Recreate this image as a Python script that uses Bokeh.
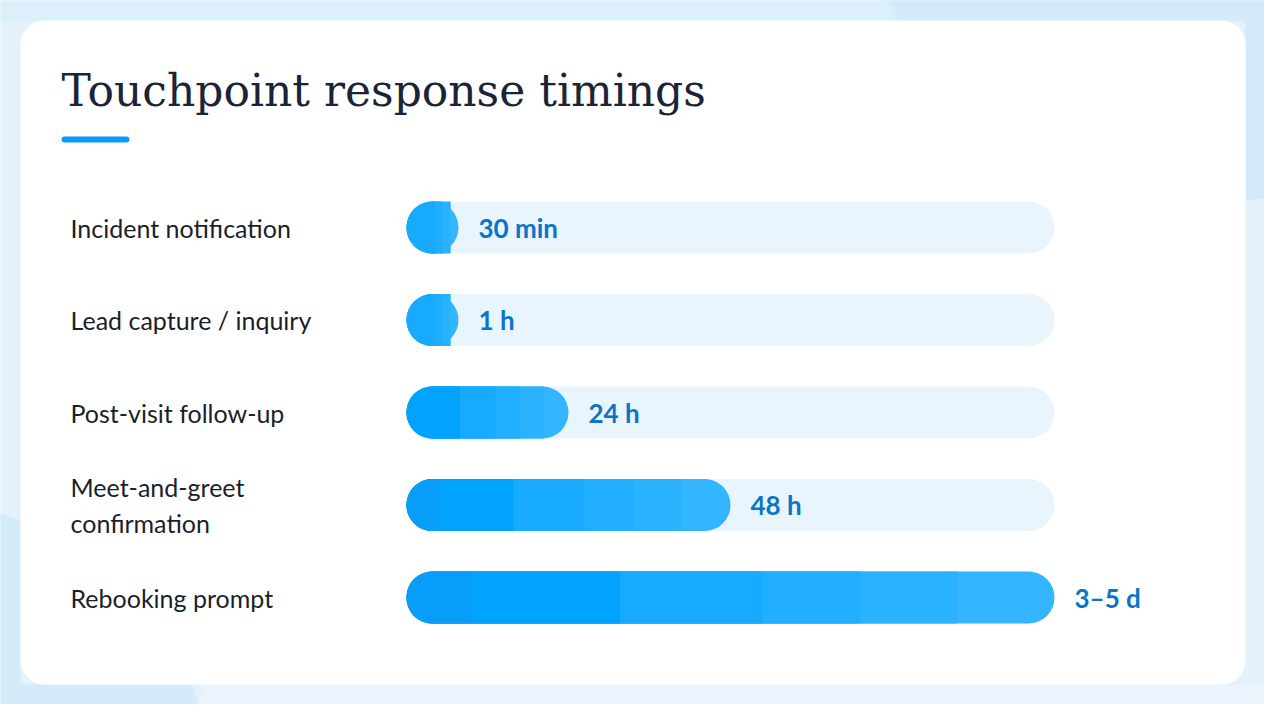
from bokeh.plotting import figure
from bokeh.models import Range1d, ColumnDataSource
from bokeh.core.properties import value
from bokeh.embed import file_html
from bokeh.resources import INLINE

# data
touchpoints = [
    "Incident notification",
    "Lead capture / inquiry",
    "Post-visit follow-up",
    "Meet-and-greet\nconfirmation",
    "Rebooking prompt",
]
hours = [0.5, 1, 24, 48, 96]          # 3–5 d plotted at its midpoint (4 d)
value_labels = ["30 min", "1 h", "24 h", "48 h", "3–5 d"]
track_max = 96

# layout (reference pixel geometry)
W, H = 1264, 704
OFF = 8                  # page margin
TRACK_X0 = 414           # px where 0 h sits
PX_PER_HOUR = 6.75
ROW0_Y = 235             # px centre of first row
ROW_PX = 92.5
BAR_PX = 52
RADIUS = 26

BG = "#e4f2fc"
# (fraction of bar length, colour) painted from full length down
BANDS = [(1.0, "#34b5ff"), (0.85, "#2bb2ff"), (0.70, "#22aeff"),
         (0.55, "#18aaff"), (0.33, "#01a3ff"), (0.10, "#079ef9")]


def sx(px):
    return (px - TRACK_X0) / PX_PER_HOUR


def sy(py):
    return (py - ROW0_Y) / ROW_PX


p = figure(
    width=W, height=H,
    x_range=Range1d(sx(OFF), sx(OFF + W)),
    y_range=Range1d(sy(OFF + H), sy(OFF)),
    x_axis_type=None, y_axis_type=None,
    min_border=0, outline_line_color=None,
    background_fill_color=BG, border_fill_color=BG,
    toolbar_location=None, output_backend="svg",
)
p.grid.visible = False

# background shapes
p.patch([sx(0), sx(1290), sx(1290), sx(0)], [sy(0), sy(0), sy(30), sy(30)],
        fill_color="#dcf0fc", line_color=None)
p.patch([sx(890), sx(1290), sx(1290), sx(1253), sx(1253), sx(905)],
        [sy(0), sy(0), sy(205), sy(208), sy(28), sy(28)],
        fill_color="#d3eafa", line_color=None)
p.patch([sx(0), sx(28), sx(28), sx(200), sx(212), sx(0)],
        [sy(518), sy(528), sy(692), sy(692), sy(730), sy(730)],
        fill_color="#d4ebfa", line_color=None)
p.patch([sx(212), sx(1290), sx(1290), sx(200)],
        [sy(692), sy(692), sy(730), sy(730)],
        fill_color="#ebf4fc", line_color=None)

# card
p.quad(left=sx(28), right=sx(1253), top=sy(28), bottom=sy(692),
       fill_color="white", line_color=None, border_radius=24)

# title + accent
p.text(x=[sx(69)], y=[sy(98)], text=["Touchpoint response timings"],
       text_font=value("DejaVu Serif"), text_font_size="44px",
       text_color="#1b2436", text_baseline="middle")
p.quad(left=sx(69), right=sx(137), top=sy(144), bottom=sy(150),
       fill_color="#0a9cf5", line_color=None, border_radius=3)

rows = list(range(len(touchpoints)))
min_len = BAR_PX / PX_PER_HOUR
bar_right = [max(h, min_len) for h in hours]
bar_h = BAR_PX / ROW_PX

src = ColumnDataSource(dict(
    y=rows, label=touchpoints, right=bar_right, vlabel=value_labels,
    track=[track_max] * len(rows),
))

# tracks
p.hbar(y="y", left=0, right="track", height=bar_h, source=src,
       fill_color="#e8f5fd", line_color=None, border_radius=RADIUS)

# bars, banded to mimic the gradient
p.hbar(y="y", left=0, right="right", height=bar_h, source=src,
       fill_color=BANDS[0][1], line_color=None, border_radius=RADIUS)
min_band = RADIUS / PX_PER_HOUR
for frac, col in BANDS[1:]:
    keep = [(y, r * frac) for y, r in zip(rows, bar_right) if r * frac >= min_band]
    if not keep:
        continue
    p.hbar(y=[k[0] for k in keep], left=0, right=[k[1] for k in keep],
           height=bar_h, fill_color=col, line_color=None,
           border_radius=(RADIUS, 0, 0, RADIUS))

# row labels
p.text(x=sx(78), y="y", text="label", source=src,
       text_font=value("Lato"), text_font_size="25px", text_color="#1a1f2b",
       text_baseline="middle", text_line_height=1.17)

# value labels
p.text(x="right", y="y", text="vlabel", source=src, x_offset=20,
       text_font=value("Lato"), text_font_size="26px", text_font_style="bold",
       text_color="#0b74c8", text_baseline="middle")

open("out.html", "w").write(file_html(p, INLINE))
